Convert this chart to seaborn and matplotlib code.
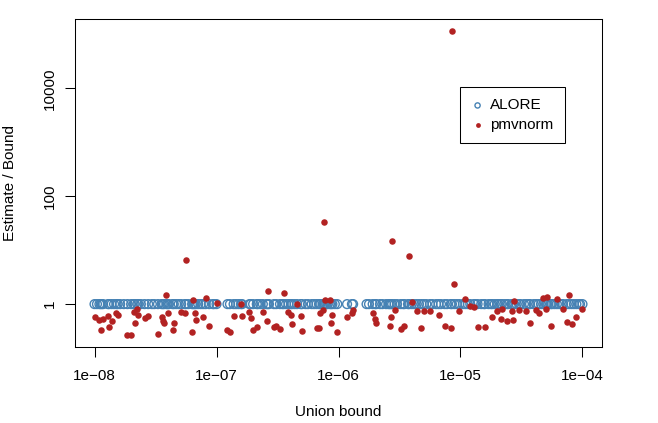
import numpy as np
import pandas as pd
import matplotlib
matplotlib.use("Agg")
import matplotlib.pyplot as plt
import seaborn as sns
from matplotlib.ticker import FixedLocator, FixedFormatter, NullLocator

# log10 of the union bound for every sample that has a pmvnorm estimate
pmv_log10_bound = [
    -8.00, -7.96, -7.95, -7.93, -7.89, -7.88, -7.86, -7.82, -7.81, -7.73,
    -7.70, -7.68, -7.67, -7.65, -7.64, -7.59, -7.56, -7.48, -7.45, -7.44,
    -7.43, -7.41, -7.40, -7.36, -7.35, -7.29, -7.26, -7.25, -7.20, -7.19,
    -7.18, -7.17, -7.11, -7.09, -7.06, -7.00, -6.91, -6.89, -6.86, -6.80,
    -6.79, -6.73, -6.72, -6.70, -6.67, -6.62, -6.59, -6.58, -6.53, -6.51,
    -6.48, -6.45, -6.41, -6.39, -6.38, -6.34, -6.31, -6.30, -6.18, -6.16,
    -6.15, -6.13, -6.12, -6.11, -6.07, -6.06, -6.05, -6.01, -5.93, -5.89,
    -5.88, -5.72, -5.70, -5.69, -5.58, -5.57, -5.56, -5.54, -5.49, -5.46,
    -5.42, -5.40, -5.36, -5.32, -5.30, -5.25, -5.18, -5.13, -5.08, -5.07,
    -5.05, -5.01, -4.96, -4.92, -4.89, -4.86, -4.80, -4.74, -4.70, -4.67,
    -4.66, -4.62, -4.58, -4.57, -4.56, -4.52, -4.46, -4.43, -4.38, -4.36,
    -4.32, -4.30, -4.29, -4.26, -4.21, -4.16, -4.13, -4.11, -4.09, -4.05,
    -4.00,
]
pmv_ratio = [
    0.57, 0.51, 0.33, 0.53, 0.60, 0.37, 0.48, 0.68, 0.63, 0.27,
    0.27, 0.71, 0.44, 0.81, 0.63, 0.55, 0.60, 0.28, 0.57, 0.48,
    0.44, 1.47, 0.68, 0.33, 0.44, 0.71, 0.68, 6.5, 0.30, 1.19,
    0.68, 0.51, 0.57, 1.29, 0.39, 1.04, 0.33, 0.30, 0.60, 0.99,
    0.60, 0.71, 0.55, 0.33, 0.37, 0.71, 0.48, 1.74, 0.37, 0.39,
    0.34, 1.60, 0.71, 0.63, 0.43, 1.00, 0.60, 0.32, 0.36, 0.36,
    0.68, 0.77, 33.0, 1.19, 1.19, 0.44, 0.63, 0.30, 0.57, 0.68,
    0.77, 0.68, 0.53, 0.44, 0.39, 0.57, 14.7, 0.77, 0.34, 0.39,
    7.7, 1.09, 0.74, 0.36, 0.74, 0.74, 0.63, 0.39, 0.36, 114000.0,
    2.35, 0.74, 1.24, 0.92, 0.88, 0.37, 0.37, 0.57, 0.74, 0.53,
    0.81, 0.48, 0.74, 0.51, 1.14, 0.77, 0.74, 0.44, 0.77, 0.68,
    1.29, 0.81, 1.35, 0.39, 1.24, 0.81, 0.46, 1.47, 0.43, 0.57,
    0.81,
]

# extra samples where only the ALORE circle can be seen
alore_only_log10_bound = [
    -7.98, -7.94, -7.84, -7.79, -7.76, -7.62, -7.53, -7.51, -7.39, -7.33,
    -7.31, -7.23, -7.15, -7.13, -7.03, -7.02, -6.84, -6.82, -6.66, -6.64,
    -6.57, -6.46, -6.43, -6.36, -6.27, -6.25, -6.22, -6.20, -6.10, -6.09,
    -6.03, -5.77, -5.75, -5.66, -5.64, -5.61, -5.59, -5.52, -5.47, -5.43,
    -5.38, -5.34, -5.28, -5.23, -5.20, -5.16, -5.11, -5.03, -4.98, -4.94,
    -4.88, -4.83, -4.81, -4.77, -4.75, -4.72, -4.69, -4.64, -4.61, -4.54,
    -4.51, -4.48, -4.44, -4.40, -4.34, -4.28, -4.25, -4.23, -4.19, -4.17,
    -4.07, -4.03, -4.02,
]
alore_log10_bound = pmv_log10_bound + alore_only_log10_bound
alore_ratio = [
    1.0, 1.0, 1.0, 1.0, 1.0, 1.0, 1.0, 1.0, 1.0, 1.0,
    1.0, 1.0, 1.0, 1.0, 1.0, 1.0, 1.0, 1.0, 1.0, 1.0,
    1.0, 1.0, 1.0, 1.0, 1.0, 1.0, 1.0, 1.0, 1.0, 1.0,
    1.0, 1.0, 1.0, 1.0, 1.0, 1.0, 1.0, 1.0, 1.0, 1.0,
    1.0, 1.0, 1.0, 1.0, 1.0, 1.0, 1.0, 1.0, 1.0, 1.0,
    1.0, 1.0, 1.0, 1.0, 1.0, 1.0, 1.0, 1.0, 1.0, 1.0,
    1.0, 1.0, 1.0, 1.0, 1.0, 1.0, 1.0, 1.0, 1.0, 1.0,
    1.0, 1.0, 1.0, 1.0, 1.0, 1.0, 1.0, 1.0, 1.0, 1.0,
    1.0, 1.0, 1.0, 1.0, 1.0, 1.0, 1.0, 1.0, 1.0, 1.0,
    1.0, 1.0, 1.0, 1.0, 1.0, 1.0, 1.0, 1.0, 1.0, 1.0,
    1.0, 1.0, 1.0, 1.0, 1.0, 1.0, 1.0, 1.0, 1.0, 1.0,
    1.0, 1.0, 1.0, 1.0, 1.0, 1.0, 1.0, 1.0, 1.0, 1.0,
    1.0, 1.0, 1.0, 1.0, 1.0, 1.0, 1.0, 1.0, 1.0, 1.0,
    1.0, 1.0, 1.0, 1.0, 1.0, 1.0, 1.0, 1.0, 1.0, 1.0,
    1.0, 1.0, 1.0, 1.0, 1.0, 1.0, 1.0, 1.0, 1.0, 1.0,
    1.0, 1.0, 1.0, 1.0, 1.0, 1.0, 1.0, 1.0, 1.0, 1.0,
    1.0, 1.0, 1.0, 1.0, 1.0, 1.0, 1.0, 1.0, 1.0, 1.0,
    1.0, 1.0, 1.0, 1.0, 1.0, 1.0, 1.0, 1.0, 1.0, 1.0,
    1.0, 1.0, 1.0, 1.0, 1.0, 1.0, 1.0, 1.0, 1.0, 1.0,
    1.0, 1.0, 1.0, 1.0,
]

x_ticks = [1e-8, 1e-7, 1e-6, 1e-5, 1e-4]
x_tick_labels = ["1e\u221208", "1e\u221207", "1e\u221206", "1e\u221205", "1e\u221204"]
y_ticks = [1, 100, 10000]
y_tick_labels = ["1", "100", "10000"]

sns.set_style("ticks")
plt.rcParams["font.family"] = ["Liberation Sans", "DejaVu Sans"]
plt.rcParams["axes.edgecolor"] = "black"
plt.rcParams["axes.linewidth"] = 0.75
plt.rcParams["text.color"] = "black"
plt.rcParams["axes.labelcolor"] = "black"
plt.rcParams["xtick.color"] = "black"
plt.rcParams["ytick.color"] = "black"

alore = pd.DataFrame({"bound": 10.0 ** np.array(alore_log10_bound), "ratio": alore_ratio})
pmv = pd.DataFrame({"bound": 10.0 ** np.array(pmv_log10_bound), "ratio": pmv_ratio})

fig = plt.figure(figsize=(6.58, 4.23), dpi=100)
ax = fig.add_axes([75 / 658, 76 / 423, 527 / 658, 328 / 423])

sns.scatterplot(data=alore, x="bound", y="ratio", ax=ax, marker="o", s=40,
                facecolor="none", edgecolor="#4682B4", linewidth=1.0,
                label="ALORE", zorder=2)
sns.scatterplot(data=pmv, x="bound", y="ratio", ax=ax, marker="o", s=22,
                color="#B22222", linewidth=0, label="pmvnorm", zorder=3)

ax.set_xscale("log")
ax.set_yscale("log")
ax.set_xlim(10 ** -8.16, 10 ** -3.84)
ax.set_ylim(10 ** -0.795, 10 ** 5.285)

ax.xaxis.set_major_locator(FixedLocator(x_ticks))
ax.xaxis.set_major_formatter(FixedFormatter(x_tick_labels))
ax.xaxis.set_minor_locator(NullLocator())
ax.yaxis.set_major_locator(FixedLocator(y_ticks))
ax.yaxis.set_major_formatter(FixedFormatter(y_tick_labels))
ax.yaxis.set_minor_locator(NullLocator())

ax.tick_params(axis="both", length=7, width=0.75, color="black", labelsize=11,
               labelcolor="black")
ax.tick_params(axis="x", pad=9)
ax.tick_params(axis="y", pad=6)
plt.setp(ax.get_yticklabels(), rotation=90, va="center")

ax.set_xlabel("Union bound", fontsize=11, va="center")
ax.set_ylabel("Estimate / Bound", fontsize=11, va="center")
ax.xaxis.set_label_coords(0.5, (347 - 412) / 328)
ax.yaxis.set_label_coords((10 - 75) / 527, 0.5)

leg = ax.legend(loc="upper left", bbox_to_anchor=((460 - 75) / 527, (347 - 87) / 328),
                borderaxespad=0, frameon=True, fancybox=False, edgecolor="black",
                framealpha=1, handlelength=0.8, handletextpad=0.4,
                borderpad=0.75, labelspacing=0.35, fontsize=11)
leg.get_frame().set_linewidth(0.75)
# legend symbols are drawn smaller than the points in the plot
leg.legend_handles[0].set_sizes([14])
leg.legend_handles[1].set_sizes([12])

fig.savefig("out.png", dpi=100)
